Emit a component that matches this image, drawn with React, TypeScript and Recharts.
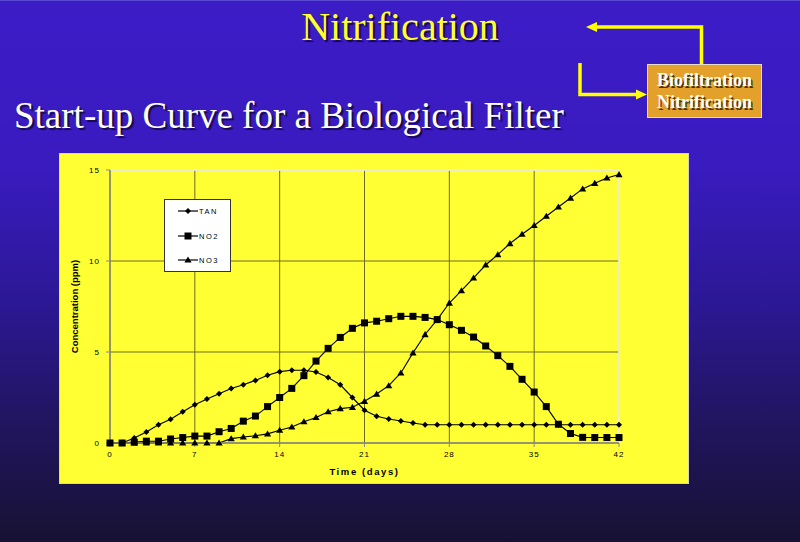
import React from "react";
import {
  LineChart,
  Line,
  XAxis,
  YAxis,
  CartesianGrid,
  ReferenceLine,
  Legend,
} from "recharts";

// time axis (days) and measured concentrations (ppm)
const days = [
  0, 1, 2, 3, 4, 5, 6, 7, 8, 9, 10, 11, 12, 13, 14, 15, 16, 17, 18, 19, 20,
  21, 22, 23, 24, 25, 26, 27, 28, 29, 30, 31, 32, 33, 34, 35, 36, 37, 38, 39,
  40, 41, 42,
];

const tan = [
  0, 0, 0.27, 0.6, 1.0, 1.3, 1.72, 2.1, 2.42, 2.71, 3.0, 3.2, 3.44, 3.72, 3.92,
  4.0, 4.0, 3.9, 3.6, 3.2, 2.5, 1.8, 1.47, 1.32, 1.21, 1.1, 1.0, 1.0, 1.0, 1.0,
  1.0, 1.0, 1.0, 1.0, 1.0, 1.0, 1.0, 1.0, 1.0, 1.0, 1.0, 1.0, 1.0,
];

const no2 = [
  0, 0, 0.05, 0.1, 0.1, 0.22, 0.3, 0.38, 0.38, 0.62, 0.8, 1.2, 1.48, 2.0, 2.5,
  3.0, 3.7, 4.5, 5.2, 5.8, 6.3, 6.6, 6.69, 6.83, 6.96, 6.96, 6.9, 6.78, 6.5,
  6.19, 5.82, 5.33, 4.8, 4.21, 3.5, 2.8, 2.0, 1.03, 0.52, 0.31, 0.3, 0.3, 0.3,
];

const no3 = [
  0, 0, 0, 0, 0, 0, 0, 0, 0, 0, 0.24, 0.33, 0.4, 0.5, 0.7, 0.88, 1.17, 1.4,
  1.72, 1.89, 1.96, 2.29, 2.69, 3.15, 3.85, 4.95, 5.96, 6.78, 7.69, 8.37, 9.07,
  9.78, 10.35, 10.96, 11.47, 11.95, 12.46, 12.97, 13.46, 13.96, 14.27, 14.56,
  14.75,
];

const xTicks = [0, 7, 14, 21, 28, 35, 42];
const yTicks = [0, 5, 10, 15];
const seriesNames = ["TAN", "NO2", "NO3"];

const data = days.map((d, i) => ({
  day: d,
  TAN: tan[i],
  NO2: no2[i],
  NO3: no3[i],
}));

const SANS = "'Liberation Sans', Arial, sans-serif";
const SERIF = "'Liberation Serif', 'Times New Roman', serif";

function markerPath(kind: string, cx: number, cy: number) {
  if (kind === "TAN")
    return `M${cx},${cy - 3}L${cx + 3},${cy}L${cx},${cy + 3}L${cx - 3},${cy}Z`;
  if (kind === "NO2")
    return `M${cx - 3.5},${cy - 3.5}h7v7h-7Z`;
  return `M${cx},${cy - 3.5}L${cx + 3.6},${cy + 2.6}L${cx - 3.6},${cy + 2.6}Z`;
}

const makeDot = (kind: string) => (props: any) => {
  const { cx, cy, index } = props;
  if (cx == null || cy == null) return <g key={`${kind}-${index}`} />;
  return <path key={`${kind}-${index}`} d={markerPath(kind, cx, cy)} fill="#000" />;
};

const LegendBox = () => (
  <div
    style={{
      position: "relative",
      width: 67,
      height: 73,
      boxSizing: "border-box",
      background: "#fff",
      border: "1px solid #333",
      fontFamily: SANS,
    }}
  >
    {seriesNames.map((name, i) => (
      <div
        key={name}
        style={{
          position: "absolute",
          left: 13,
          top: [11, 36, 60][i] - 5,
          height: 10,
          display: "flex",
          alignItems: "center",
        }}
      >
        <svg width={20} height={10}>
          <line x1={0} y1={5} x2={20} y2={5} stroke="#000" strokeWidth={1.2} />
          <path d={markerPath(name, 10, 5)} fill="#000" />
        </svg>
        <span
          style={{
            fontSize: 7.5,
            letterSpacing: 1.5,
            marginLeft: 1,
            color: "#000",
          }}
        >
          {name}
        </span>
      </div>
    ))}
  </div>
);

export default function App() {
  return (
    <div
      style={{
        position: "absolute",
        left: 0,
        top: 0,
        width: 800,
        height: 542,
        overflow: "hidden",
        background:
          "linear-gradient(to bottom, #3c1cc6 0%, #3a1bc0 30%, #2c1896 55%, #21155f 78%, #171233 100%)",
        borderTop: "1px solid #5b49d2",
        boxSizing: "border-box",
      }}
    >
      {/* title */}
      <div
        style={{
          position: "absolute",
          left: 0,
          top: 6,
          width: 800,
          textAlign: "center",
          fontFamily: SERIF,
          fontSize: 40,
          lineHeight: "40px",
          color: "#ffff33",
          textShadow: "2px 2px 1px #140a4a",
        }}
      >
        Nitrification
      </div>
      <div
        style={{
          position: "absolute",
          left: 14,
          top: 96,
          fontFamily: SERIF,
          fontSize: 37,
          lineHeight: "37px",
          color: "#fff",
          whiteSpace: "nowrap",
          textShadow: "2px 2px 1px #140a4a",
        }}
      >
        Start-up Curve for a Biological Filter
      </div>

      {/* arrows */}
      <svg
        width={800}
        height={542}
        style={{ position: "absolute", left: 0, top: 0 }}
      >
        <polyline
          points="701.5,63 701.5,26 595,26"
          fill="none"
          stroke="#ffff00"
          strokeWidth={3.5}
        />
        <polygon points="586,26 597,21 597,31" fill="#ffff00" />
        <polyline
          points="580,62 580,93.5 638,93.5"
          fill="none"
          stroke="#ffff00"
          strokeWidth={3.5}
        />
        <polygon points="647,93.5 636,88.5 636,98.5" fill="#ffff00" />
      </svg>

      {/* box */}
      <div
        style={{
          position: "absolute",
          left: 647,
          top: 63,
          width: 115,
          height: 54,
          boxSizing: "border-box",
          background: "#e3a12c",
          border: "1px solid #e8dcc0",
          fontFamily: SERIF,
          fontWeight: "bold",
          fontSize: 18,
          lineHeight: "22px",
          color: "#fff",
          textAlign: "center",
          paddingTop: 4,
          textShadow: "1.5px 1.5px 0 #4a3410",
        }}
      >
        Biofiltration
        <br />
        Nitrification
      </div>

      {/* chart panel */}
      <div
        style={{
          position: "absolute",
          left: 60,
          top: 153,
          width: 628,
          height: 329,
          background: "#ffff33",
          outline: "1px solid #d6d6b8",
        }}
      >
        <LineChart
          width={628}
          height={329}
          data={data}
          margin={{ top: 16, right: 69, bottom: 0, left: 0 }}
          style={{ fontFamily: SANS }}
        >
          <CartesianGrid stroke="#6e6e20" strokeWidth={1} />
          <ReferenceLine y={15} stroke="#ffffff" strokeWidth={1.5} />
          <ReferenceLine x={42} stroke="#ffffff" strokeWidth={1.5} />
          <XAxis
            dataKey="day"
            type="number"
            domain={[0, 42]}
            ticks={xTicks}
            height={40}
            tickSize={4}
            tickMargin={4}
            axisLine={{ stroke: "#8a8a8a", strokeWidth: 1.5 }}
            tickLine={{ stroke: "#8a8a8a" }}
            tick={{ fontSize: 8, fill: "#000", letterSpacing: 1 }}
            label={{
              value: "Time (days)",
              position: "insideBottom",
              offset: 8,
              style: {
                fontSize: 9.5,
                fontWeight: "bold",
                letterSpacing: 1.6,
                fill: "#000",
              },
            }}
          />
          <YAxis
            type="number"
            domain={[0, 15]}
            ticks={yTicks}
            width={50}
            tickSize={4}
            tickMargin={6}
            axisLine={{ stroke: "#8a8a8a", strokeWidth: 1.5 }}
            tickLine={{ stroke: "#8a8a8a" }}
            tick={{ fontSize: 8, fill: "#000", letterSpacing: 1 }}
            label={{
              value: "Concentration (ppm)",
              angle: -90,
              position: "insideLeft",
              offset: 15,
              style: {
                textAnchor: "middle",
                fontSize: 9.5,
                fontWeight: "bold",
                fill: "#000",
              },
            }}
          />
          <Legend
            layout="vertical"
            align="center"
            verticalAlign="middle"
            wrapperStyle={{ left: 104, top: 45, width: 67, height: 73 }}
            content={() => <LegendBox />}
          />
          {seriesNames.map((name) => (
            <Line
              key={name}
              dataKey={name}
              type="linear"
              stroke="#000"
              strokeWidth={1.1}
              dot={makeDot(name)}
              activeDot={false}
              isAnimationActive={false}
              legendType="none"
            />
          ))}
        </LineChart>
      </div>
    </div>
  );
}
